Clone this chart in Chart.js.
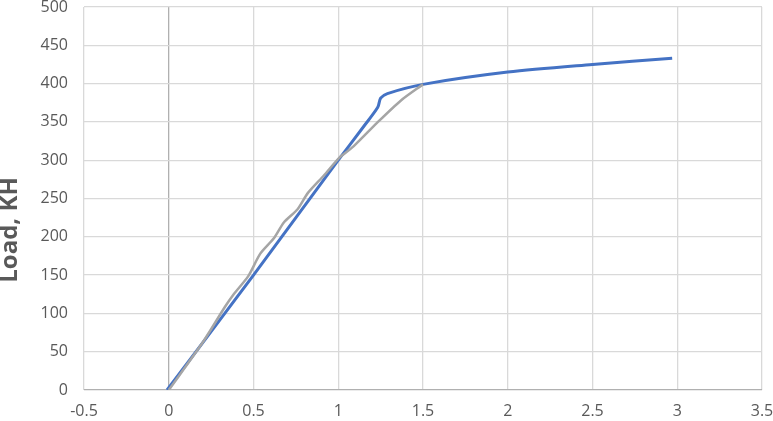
<!DOCTYPE html>
<html>
<head>
<meta charset="utf-8">
<script src="https://cdn.jsdelivr.net/npm/chart.js@4"></script>
<style>
  html, body { margin: 0; padding: 0; background: #fff; }
  #wrap { width: 773px; height: 421px; position: relative; }
</style>
</head>
<body>
<div id="wrap"><canvas id="load-chart"></canvas></div>
<script>
// series
const grayX = [0, 0.2, 0.33, 0.38, 0.47, 0.54, 0.62, 0.68, 0.76, 0.82, 0.915, 1.01, 1.09, 1.23, 1.37, 1.5]
const grayY = [0, 62, 108, 124, 149, 178, 198, 219, 236, 257, 280, 304, 318, 349, 378, 399]

const blueX = [-0.01, 0.5, 1.0, 1.15, 1.233, 1.25, 1.29, 1.5, 2.0, 2.5, 2.97]
const blueY = [0, 150, 300, 344, 369, 381, 387, 399, 415, 425, 433]

const xTicks = [-0.5, 0, 0.5, 1, 1.5, 2, 2.5, 3, 3.5]
const yTicks = [0, 50, 100, 150, 200, 250, 300, 350, 400, 450, 500]
const yTitle = 'Load, KH'

function toPoints(xs, ys) {
    return xs.map((x, i) => ({ x: x, y: ys[i] }))
}

const data = {
    datasets: [{
        label: 'gray',
        data: toPoints(grayX, grayY),
        borderColor: '#A5A5A5',
        borderWidth: 2.5,
        showLine: true,
        pointRadius: 0,
        tension: 0.25
    }, {
        label: 'blue',
        data: toPoints(blueX, blueY),
        borderColor: '#4472C4',
        borderWidth: 3,
        showLine: true,
        pointRadius: 0,
        tension: 0.3
    }]
}

const tickFont = { family: 'Open Sans', size: 16 }

// rotated axis title, drawn like Excel (a bit below the plot centre)
const axisTitle = {
    id: 'axisTitle',
    afterDraw(chart) {
        const ctx = chart.ctx
        ctx.save()
        ctx.translate(10, 230)
        ctx.rotate(-Math.PI / 2)
        ctx.font = 'bold 24px "Open Sans"'
        ctx.fillStyle = '#595959'
        ctx.textAlign = 'center'
        ctx.textBaseline = 'middle'
        ctx.fillText(yTitle, 0, 0)
        ctx.restore()
    }
}

const gridColor = c => c.tick && c.tick.value === 0 ? '#B0B0B0' : '#D9D9D9'

const config = {
    type: 'scatter',
    data: data,
    options: {
        responsive: true,
        maintainAspectRatio: false,
        animation: false,
        layout: { padding: { top: 7, right: 11, left: 0, bottom: 0 } },
        plugins: {
            legend: { display: false },
            tooltip: { enabled: false }
        },
        scales: {
            x: {
                type: 'linear',
                min: xTicks[0],
                max: xTicks[xTicks.length - 1],
                afterBuildTicks: scale => { scale.ticks = xTicks.map(v => ({ value: v })) },
                ticks: { color: '#595959', font: tickFont, padding: 12, callback: v => String(v) },
                grid: { drawTicks: false, lineWidth: 1.3, color: gridColor },
                border: { display: false },
                afterFit: scale => {
                    scale.height = 31
                    scale.paddingLeft = 0
                    scale.paddingRight = 0
                }
            },
            y: {
                type: 'linear',
                min: yTicks[0],
                max: yTicks[yTicks.length - 1],
                afterBuildTicks: scale => { scale.ticks = yTicks.map(v => ({ value: v })) },
                ticks: { color: '#595959', font: tickFont, padding: 16, callback: v => String(v) },
                grid: { drawTicks: false, lineWidth: 1.3, color: gridColor },
                border: { display: false },
                afterFit: scale => {
                    scale.width = 84
                    scale.paddingTop = 0
                    scale.paddingBottom = 0
                }
            }
        }
    },
    plugins: [axisTitle]
}

const myChart = new Chart(document.getElementById('load-chart'), config)
</script>
</body>
</html>
